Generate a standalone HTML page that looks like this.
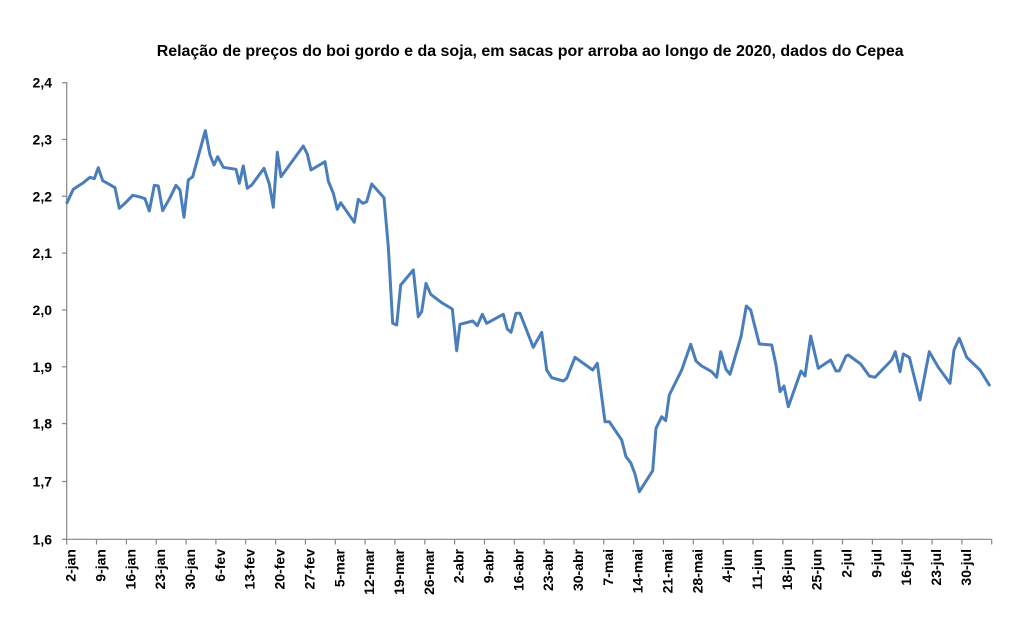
<!DOCTYPE html>
<html>
<head>
<meta charset="utf-8">
<style>
html,body{margin:0;padding:0;background:#fff;}
svg{display:block;}
text{font-family:"Liberation Sans",Arial,sans-serif;font-weight:bold;fill:#000;}
</style>
</head>
<body>
<svg width="1013" height="631" viewBox="0 0 1013 631" xmlns="http://www.w3.org/2000/svg">
<rect x="0" y="0" width="1013" height="631" fill="#fff"/>
<text x="156.7" y="56" font-size="16" textLength="747" lengthAdjust="spacingAndGlyphs">Relação de preços do boi gordo e da soja, em sacas por arroba ao longo de 2020, dados do Cepea</text>

<g stroke="#868686" stroke-width="1.2" fill="none">
<line x1="66.7" y1="82" x2="66.7" y2="539.3"/>
<line x1="66.7" y1="539.3" x2="991.7" y2="539.3"/>
<line x1="62" y1="82.7" x2="66.7" y2="82.7"/>
<line x1="62" y1="139.5" x2="66.7" y2="139.5"/>
<line x1="62" y1="196.3" x2="66.7" y2="196.3"/>
<line x1="62" y1="253.1" x2="66.7" y2="253.1"/>
<line x1="62" y1="310" x2="66.7" y2="310"/>
<line x1="62" y1="366.8" x2="66.7" y2="366.8"/>
<line x1="62" y1="423.6" x2="66.7" y2="423.6"/>
<line x1="62" y1="481.5" x2="66.7" y2="481.5"/>
<line x1="62" y1="539.3" x2="66.7" y2="539.3"/>
</g>
<g id="xticks" stroke="#868686" stroke-width="1.2"></g>

<g font-size="14" text-anchor="end">
<text x="52" y="87.7">2,4</text>
<text x="52" y="144.5">2,3</text>
<text x="52" y="201.3">2,2</text>
<text x="52" y="258.1">2,1</text>
<text x="52" y="315">2,0</text>
<text x="52" y="371.8">1,9</text>
<text x="52" y="428.6">1,8</text>
<text x="52" y="486.5">1,7</text>
<text x="52" y="544.3">1,6</text>
</g>

<g id="xlabels" font-size="14" text-anchor="end"></g>

<polyline fill="none" stroke="#4A7EBB" stroke-width="3" stroke-linejoin="round" stroke-linecap="round" points="
67,202.7 73.3,189.3 83.3,182.7 90,177.3 94.3,178.7 98.3,167.7 102.7,180.7 109.3,184.3 115,187.7 119.3,208.3
125,203.3 132.7,195.3 139,196.7 145,198.7 149.3,211 154.3,185.3 158.3,186 162.7,210.7 170,197.7 176,185.3
180,190 184,217.3 188.3,180 192.7,176.7 205.3,130.7 210,155 214,165 217.7,156.7 223.3,167.3 236,169.3
239.3,183.3 243.3,166 247.3,188.3 251.7,185 264,168.3 269.3,184 273.3,207.3 277.3,152.3 281,176.7 303.3,146
307.3,154 311,170 325,161.7 328.3,181 333.3,193.3 337.3,209.3 340.7,202.7 354.3,222.3 358.3,199.3 362.7,203.3
366.7,201.7 371.7,184 384,197.7 388.3,246.7 392.7,323.3 396.7,325 400.7,285 413.3,270 418.3,316.7 421.7,311.7
426,283.3 430.7,294.3 441.7,302.7 452.3,309 456.7,350.7 460,324.3 472.7,321 477.3,325.7 482.3,314.3 486.7,323.3
503.3,314.3 507.3,329 511,332.3 516,313.3 520,313.3 533.3,347.3 541.7,332.3 546.7,370 551.7,377.7 563.3,381
566.7,378.3 575,357.3 592.7,370 597.3,363.3 605,421.7 609.3,421.7 621.7,440 626,456.7 630.7,462.7 635,474
639.3,491.7 652.7,470.7 656,428.3 661.7,416.7 665.7,420.7 669.3,395 681.7,370 690.7,344.3 696,361 701.7,366
711.7,371.7 716.7,377.3 720.7,351.7 726,369.3 730,374.3 741,336.7 746.3,306 750.7,310 759.3,344 771.7,345
776,365 780,391.7 784,386 788.3,406.7 801,371 805,376 810.7,336 818.3,368.3 830.7,360 836,371
839.3,370.7 846,356 848.3,355 860.7,364 869.3,376 875,377.3 891.7,360 895.3,351.7 900,371.7 903.3,354
909.3,357.3 920,400 929.3,351.7 938.3,367.3 950,383.3 954,350 959.3,338.3 966.7,357.3 980,370 989.3,385"/>

<!-- x ticks and labels (static) -->
<g stroke="#868686" stroke-width="1.2">
<line x1="66.7" y1="539.3" x2="66.7" y2="544.5"/>
<line x1="96.5" y1="539.3" x2="96.5" y2="544.5"/>
<line x1="126.4" y1="539.3" x2="126.4" y2="544.5"/>
<line x1="156.2" y1="539.3" x2="156.2" y2="544.5"/>
<line x1="186.1" y1="539.3" x2="186.1" y2="544.5"/>
<line x1="215.9" y1="539.3" x2="215.9" y2="544.5"/>
<line x1="245.7" y1="539.3" x2="245.7" y2="544.5"/>
<line x1="275.6" y1="539.3" x2="275.6" y2="544.5"/>
<line x1="305.4" y1="539.3" x2="305.4" y2="544.5"/>
<line x1="335.3" y1="539.3" x2="335.3" y2="544.5"/>
<line x1="365.1" y1="539.3" x2="365.1" y2="544.5"/>
<line x1="394.9" y1="539.3" x2="394.9" y2="544.5"/>
<line x1="424.8" y1="539.3" x2="424.8" y2="544.5"/>
<line x1="454.6" y1="539.3" x2="454.6" y2="544.5"/>
<line x1="484.5" y1="539.3" x2="484.5" y2="544.5"/>
<line x1="514.3" y1="539.3" x2="514.3" y2="544.5"/>
<line x1="544.1" y1="539.3" x2="544.1" y2="544.5"/>
<line x1="574" y1="539.3" x2="574" y2="544.5"/>
<line x1="603.8" y1="539.3" x2="603.8" y2="544.5"/>
<line x1="633.7" y1="539.3" x2="633.7" y2="544.5"/>
<line x1="663.5" y1="539.3" x2="663.5" y2="544.5"/>
<line x1="693.3" y1="539.3" x2="693.3" y2="544.5"/>
<line x1="723.2" y1="539.3" x2="723.2" y2="544.5"/>
<line x1="753" y1="539.3" x2="753" y2="544.5"/>
<line x1="782.9" y1="539.3" x2="782.9" y2="544.5"/>
<line x1="812.7" y1="539.3" x2="812.7" y2="544.5"/>
<line x1="842.5" y1="539.3" x2="842.5" y2="544.5"/>
<line x1="872.4" y1="539.3" x2="872.4" y2="544.5"/>
<line x1="902.2" y1="539.3" x2="902.2" y2="544.5"/>
<line x1="932.1" y1="539.3" x2="932.1" y2="544.5"/>
<line x1="961.9" y1="539.3" x2="961.9" y2="544.5"/>
<line x1="991.7" y1="539.3" x2="991.7" y2="544.5"/>
</g>
<g font-size="14" text-anchor="end">
<text transform="translate(75.7,549) rotate(-90)">2-jan</text>
<text transform="translate(105.5,549) rotate(-90)">9-jan</text>
<text transform="translate(135.4,549) rotate(-90)">16-jan</text>
<text transform="translate(165.2,549) rotate(-90)">23-jan</text>
<text transform="translate(195.1,549) rotate(-90)">30-jan</text>
<text transform="translate(224.9,549) rotate(-90)">6-fev</text>
<text transform="translate(254.7,549) rotate(-90)">13-fev</text>
<text transform="translate(284.6,549) rotate(-90)">20-fev</text>
<text transform="translate(314.4,549) rotate(-90)">27-fev</text>
<text transform="translate(344.3,549) rotate(-90)">5-mar</text>
<text transform="translate(374.1,549) rotate(-90)">12-mar</text>
<text transform="translate(403.9,549) rotate(-90)">19-mar</text>
<text transform="translate(433.8,549) rotate(-90)">26-mar</text>
<text transform="translate(463.6,549) rotate(-90)">2-abr</text>
<text transform="translate(493.5,549) rotate(-90)">9-abr</text>
<text transform="translate(523.3,549) rotate(-90)">16-abr</text>
<text transform="translate(553.1,549) rotate(-90)">23-abr</text>
<text transform="translate(583,549) rotate(-90)">30-abr</text>
<text transform="translate(612.8,549) rotate(-90)">7-mai</text>
<text transform="translate(642.7,549) rotate(-90)">14-mai</text>
<text transform="translate(672.5,549) rotate(-90)">21-mai</text>
<text transform="translate(702.3,549) rotate(-90)">28-mai</text>
<text transform="translate(732.2,549) rotate(-90)">4-jun</text>
<text transform="translate(762,549) rotate(-90)">11-jun</text>
<text transform="translate(791.9,549) rotate(-90)">18-jun</text>
<text transform="translate(821.7,549) rotate(-90)">25-jun</text>
<text transform="translate(851.5,549) rotate(-90)">2-jul</text>
<text transform="translate(881.4,549) rotate(-90)">9-jul</text>
<text transform="translate(911.2,549) rotate(-90)">16-jul</text>
<text transform="translate(941.1,549) rotate(-90)">23-jul</text>
<text transform="translate(970.9,549) rotate(-90)">30-jul</text>
</g>
</svg>
</body>
</html>
